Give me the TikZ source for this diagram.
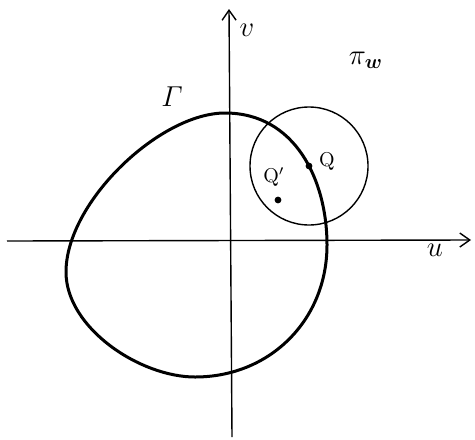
\documentclass[tikz,border=0pt]{standalone}
\usepackage{amsmath}
\usepackage{amssymb}
\usepackage{tikz}
\usetikzlibrary{arrows.meta, positioning}

\begin{document}
\begin{tikzpicture}[x=0.5pt, y=-0.5pt,
    axis/.style={line width=0.7pt, -{Straight Barb[length=5pt, width=7pt]}},
    curvebold/.style={line width=1.5pt},
    thinring/.style={line width=0.7pt},
    dotmark/.style={circle, fill=black, inner sep=0pt, minimum size=3.4pt}]
  \useasboundingbox (0,0) rectangle (475,439);

  % axes
  \coordinate (uStart) at (7,241);
  \coordinate (uEnd) at (471,240);
  \coordinate (vStart) at (232,437);
  \coordinate (vEnd) at (229,9);
  \draw[axis] (uStart) -- (uEnd);
  \draw[axis] (vStart) -- (vEnd);

  % the closed curve
  \coordinate (gTop) at (225,113);
  \coordinate (gRight) at (327,245);
  \coordinate (gBottom) at (195,377);
  \coordinate (gLeft) at (66,272);
  \draw[curvebold] (gTop) .. controls (295,113) and (327,180) .. (gRight)
    .. controls (327,320) and (270,377) .. (gBottom)
    .. controls (140,377) and (66,328) .. (gLeft)
    .. controls (66,202) and (160,113) .. (gTop) -- cycle;

  % disc round Q
  \node[dotmark] (Q) at (309,166) {};
  \draw[thinring] (Q.center) circle[radius=59];
  \node[dotmark] (Qp) at (278,200) {};

  % labels
  \node (vLbl) at (247,30) {\Large $v$};
  \node (uLbl) at (435,250) {\Large $u$};
  \node (piLbl) at (366,60) {\Large $\pi_{\boldsymbol{w}}$};
  \node (gammaLbl) at (172,97) {\Large $\varGamma$};
  \node (qLbl) at (327,161) {Q};
  \node (qpLbl) at (274,177) {Q$'$};
\end{tikzpicture}
\end{document}
